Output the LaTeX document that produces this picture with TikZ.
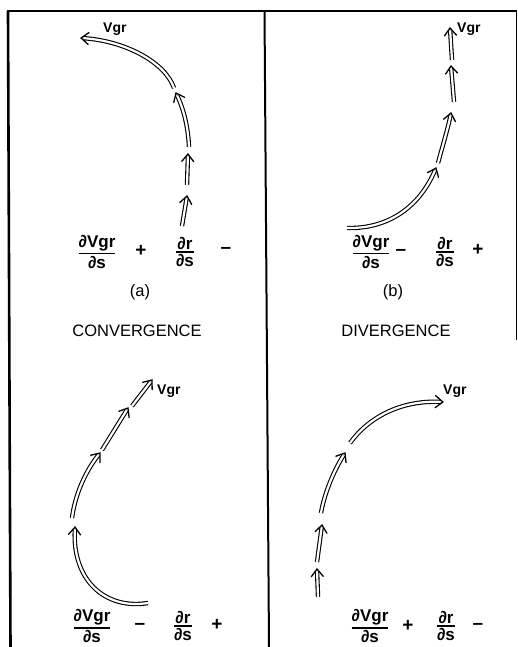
\documentclass[tikz,border=0pt]{standalone}
\usepackage{fontspec}
\setmainfont{Liberation Sans}
\usetikzlibrary{decorations.markings}
\tikzset{
  dbl/.style={double, double distance=2.2pt, line width=1.1pt, shorten >=2.8pt,
    postaction={decorate, decoration={markings, mark=at position 0.999 with {%
      \draw[line width=1.3pt, shorten >=0pt, shorten <=0pt, line cap=round, line join=miter]
        (-7.5pt,6pt) -- (0pt,0pt) -- (-7.5pt,-6pt);}}}},
  lbl/.style={inner sep=0pt, font=\fontsize{14}{16}\selectfont\bfseries},
  ttl/.style={inner sep=0pt, font=\fontsize{16.5}{19}\selectfont},
  frc/.style={inner sep=0pt, font=\fontsize{17}{19}\selectfont\bfseries},
  sgn/.style={inner sep=0pt, font=\fontsize{19}{20}\selectfont\bfseries},
  frame/.style={line width=2pt},
}
\newcommand\myfr[2]{${\mbox{#1}\above1.6pt\mbox{#2}}$}
\begin{document}
\begin{tikzpicture}[x=1pt,y=-1pt]
\useasboundingbox (0,0) rectangle (518,647);
\clip (0,0) rectangle (518,647);
\fill[white] (0,0) rectangle (518,647);
% frame
\coordinate (tl) at (7,11); \coordinate (tr) at (517,11);
\coordinate (lt) at (8,11); \coordinate (lb) at (10.5,648);
\coordinate (mt) at (264.5,11); \coordinate (mb) at (269,648);
\coordinate (rt) at (516,11); \coordinate (rb) at (516,340);
\draw[frame] (tl) -- (tr);
\draw[frame,line width=2.6pt] (lt) -- (lb);
\draw[frame] (mt) -- (mb);
\draw[frame,line width=1pt] (rt) -- (rb);

% ---------- panel (a)
\coordinate (a1s) at (182,226); \coordinate (a1e) at (187,196);
\coordinate (a2s) at (187,185); \coordinate (a2e) at (188,154);
\coordinate (a3s) at (189,147); \coordinate (a3e) at (176,93);
\coordinate (a4s) at (174,88);  \coordinate (a4e) at (81,38);
\draw[dbl] (a1s) -- (a1e);
\draw[dbl] (a2s) -- (a2e);
\draw[dbl] (a3s) .. controls (188,125) and (183,108) .. (a3e);
\draw[dbl] (a4s) .. controls (165,62) and (125,41) .. (a4e);
\node[lbl,anchor=west] (av) at (103,29) {Vgr};
\node[frc] (af1) at (97,252) {\myfr{∂Vgr}{∂s}};
\node[sgn] (ap) at (141,251) {+};
\node[frc] (af2) at (185,252) {\myfr{∂r}{∂s}};
\node[sgn] (am) at (226,250) {–};
\node[ttl] (alab) at (140,292) {(a)};
\node[ttl] (atit) at (137,331) {CONVERGENCE};

% ---------- panel (b)
\coordinate (b1s) at (347,228); \coordinate (b1e) at (436,168);
\coordinate (b2s) at (438,163); \coordinate (b2e) at (451,113);
\coordinate (b3s) at (454,102); \coordinate (b3e) at (451,66);
\coordinate (b4s) at (452,60);  \coordinate (b4e) at (450,28);
\draw[dbl] (b1s) .. controls (385,229) and (418,210) .. (b1e);
\draw[dbl] (b2s) .. controls (442,148) and (448,128) .. (b2e);
\draw[dbl] (b3s) -- (b3e);
\draw[dbl] (b4s) -- (b4e);
\node[lbl,anchor=west] (bv) at (457,29) {Vgr};
\node[frc] (bf1) at (371,252) {\myfr{∂Vgr}{∂s}};
\node[sgn] (bm) at (401,252) {–};
\node[frc] (bf2) at (445,252) {\myfr{∂r}{∂s}};
\node[sgn] (bp) at (478,250) {+};
\node[ttl] (blab) at (393,292) {(b)};
\node[ttl] (btit) at (396,331) {DIVERGENCE};

% ---------- panel (c)
\coordinate (c1s) at (148,603); \coordinate (c1e) at (75,527);
\coordinate (c2s) at (72,518);  \coordinate (c2e) at (100,453);
\coordinate (c3s) at (102,450); \coordinate (c3e) at (128,408);
\coordinate (c4s) at (132,406); \coordinate (c4e) at (152,380);
\draw[dbl] (c1s) .. controls (105,610) and (72,580) .. (c1e);
\draw[dbl] (c2s) .. controls (75,495) and (85,472) .. (c2e);
\draw[dbl] (c3s) -- (c3e);
\draw[dbl] (c4s) -- (c4e);
\node[lbl,anchor=west] (cv) at (157,391) {Vgr};
\node[frc] (cf1) at (92,626) {\myfr{∂Vgr}{∂s}};
\node[sgn] (cm) at (140,626) {–};
\node[frc] (cf2) at (183,626) {\myfr{∂r}{∂s}};
\node[sgn] (cp) at (217,625) {+};

% ---------- panel (d)
\coordinate (d1s) at (350,443); \coordinate (d1e) at (443,402);
\coordinate (d2s) at (321,513); \coordinate (d2e) at (345,453);
\coordinate (d3s) at (317,562); \coordinate (d3e) at (322,525);
\coordinate (d4s) at (318,597); \coordinate (d4e) at (317,569);
\draw[dbl] (d1s) .. controls (368,418) and (400,400) .. (d1e);
\draw[dbl] (d2s) .. controls (324,495) and (333,472) .. (d2e);
\draw[dbl] (d3s) -- (d3e);
\draw[dbl] (d4s) -- (d4e);
\node[lbl,anchor=west] (dv) at (443,391) {Vgr};
\node[frc] (df1) at (370,626) {\myfr{∂Vgr}{∂s}};
\node[sgn] (dp) at (408,626) {+};
\node[frc] (df2) at (446,626) {\myfr{∂r}{∂s}};
\node[sgn] (dm) at (478,626) {–};
\end{tikzpicture}
\end{document}
